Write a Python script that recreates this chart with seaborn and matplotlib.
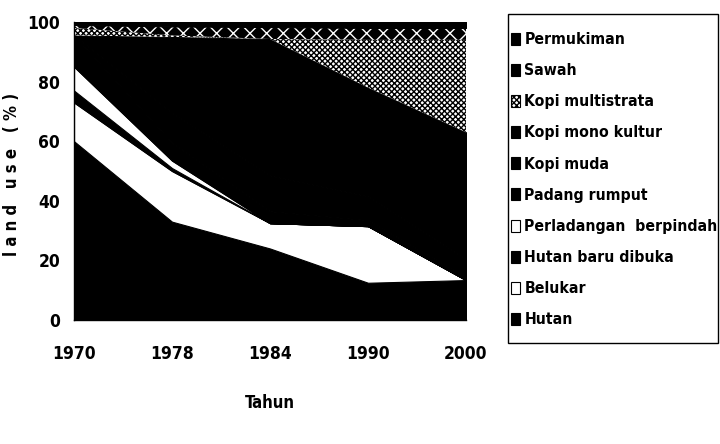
import matplotlib
matplotlib.use("Agg")
import matplotlib.pyplot as plt
from matplotlib.patches import Rectangle
import seaborn as sns

# Tahun (categorical x) and land use share (%) per class, bottom to top
years = ["1970", "1978", "1984", "1990", "2000"]
hutan = [60, 33, 24, 12.5, 13.4]
belukar = [13, 17, 8.5, 19, 0]
hutan_baru = [4, 1, 0, 0, 0]
perladangan = [8, 2.5, 0, 0, 0]
padang_rumput = [10.5, 6, 4, 2, 1]
kopi_muda = [0, 10, 12, 8, 6]
kopi_mono = [0, 25.5, 45.8, 36.5, 42.6]
kopi_multi = [2.5, 0.5, 0, 16, 31]
sawah = [1, 3, 4, 4, 4]
permukiman = [1, 1.5, 1.7, 2, 2]

labels = ["Hutan", "Belukar", "Hutan baru dibuka", "Perladangan  berpindah",
          "Padang rumput", "Kopi muda", "Kopi mono kultur", "Kopi multistrata",
          "Sawah", "Permukiman"]
series = [hutan, belukar, hutan_baru, perladangan, padang_rumput,
          kopi_muda, kopi_mono, kopi_multi, sawah, permukiman]

faces = ["black", "white", "black", "white", "black",
         "black", "black", "white", "black", "black"]
edges = ["black", "black", "black", "black", "black",
         "black", "black", "black", "white", "black"]
hatches = [None, None, None, None, None, None, None, "xxxxxx", "xx", None]

sns.set_style("white")
plt.rcParams["font.family"] = ["DejaVu Sans Condensed", "DejaVu Sans"]
plt.rcParams["font.stretch"] = "condensed"
plt.rcParams["font.weight"] = "bold"
plt.rcParams["text.color"] = "black"
plt.rcParams["axes.labelcolor"] = "black"
plt.rcParams["axes.labelweight"] = "bold"
plt.rcParams["hatch.linewidth"] = 1.0

fig = plt.figure(figsize=(7.2, 4.44), dpi=100)
ax = fig.add_axes([74 / 720, 1 - 320 / 444, 392 / 720, 298 / 444])

x = list(range(len(years)))
polys = ax.stackplot(x, *series, labels=labels, colors=faces)
for p, ec, h in zip(polys, edges, hatches):
    p.set_edgecolor(ec)
    if h:
        p.set_hatch(h)
        p.set_linewidth(0)
    else:
        p.set_linewidth(0.8)

ax.set_xlim(0, 4)
ax.set_ylim(0, 100)
ax.set_xticks(x)
ax.set_xticklabels(years)
ax.set_yticks(range(0, 101, 20))
ax.tick_params(axis="both", direction="out", length=5, width=1, colors="black",
               labelsize=12.5, pad=13)
ax.tick_params(axis="y", pad=5)
for s in ["top", "right"]:
    ax.spines[s].set_visible(False)
for s in ["left", "bottom"]:
    ax.spines[s].set_color("black")
    ax.spines[s].set_linewidth(1)

ax.set_xlabel("Tahun", fontsize=12, labelpad=22)
ax.set_ylabel("l a n d   u s e   ( % )", fontsize=12)
ax.yaxis.set_label_coords(-0.135, 0.49)

handles, labs = ax.get_legend_handles_labels()
leg = fig.legend(handles[::-1], labs[::-1], loc="upper left",
                 bbox_to_anchor=(511 / 720, 1 - 32 / 444), borderaxespad=0,
                 frameon=False, fontsize=11.3, labelspacing=1.03,
                 handlelength=0.6, handleheight=0.8, handletextpad=0.25,
                 borderpad=0)
for h in leg.legend_handles:
    h.set_linewidth(0.8)
    h.set_edgecolor("black")

# legend box drawn separately so its padding matches the original
fig.add_artist(Rectangle((508 / 720, 1 - 343 / 444), 210 / 720, 329 / 444,
                         transform=fig.transFigure, fill=False,
                         edgecolor="black", linewidth=1))

fig.savefig("out.png", dpi=100)
